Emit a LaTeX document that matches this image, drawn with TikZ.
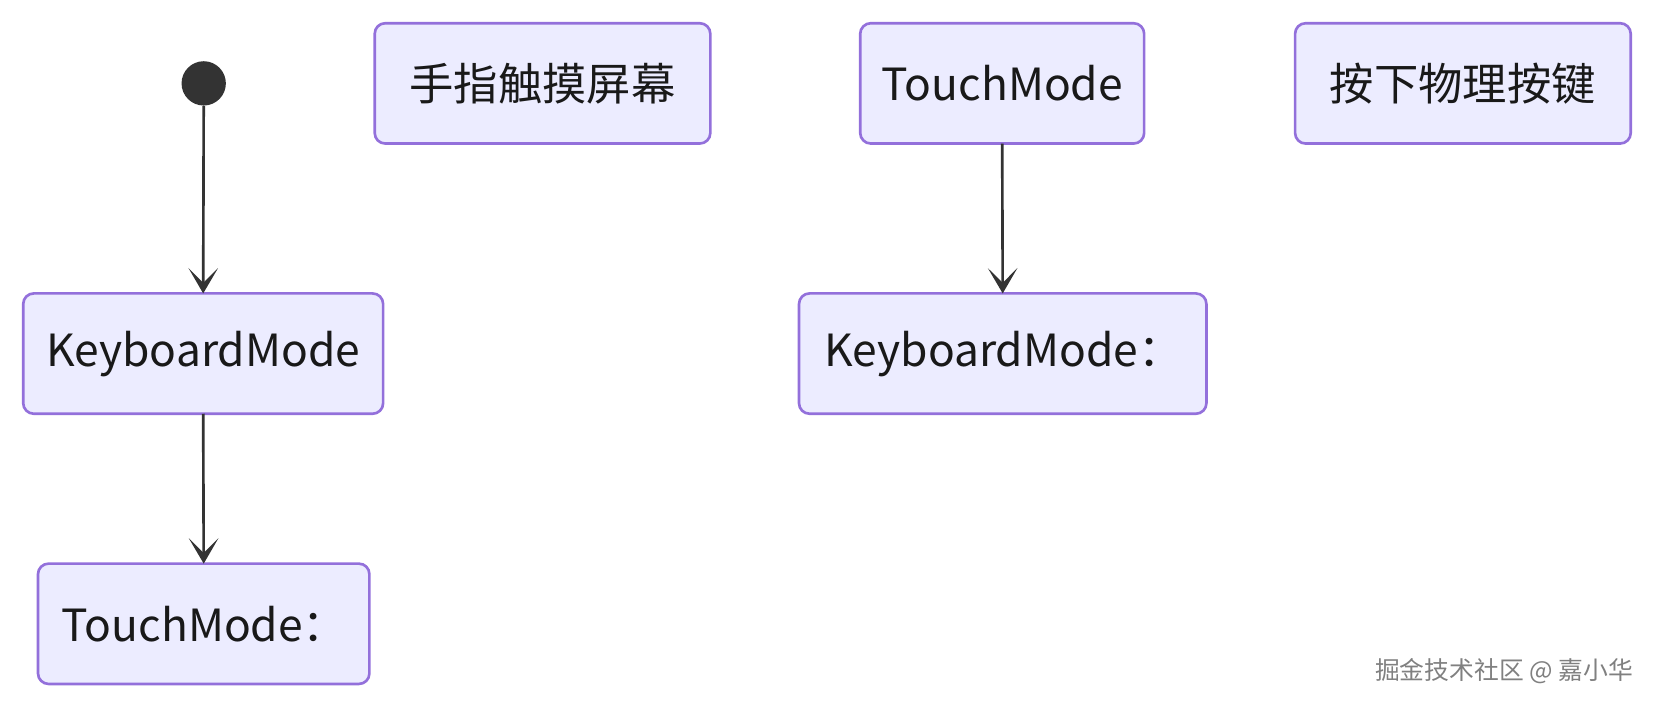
\documentclass[tikz,border=0pt]{standalone}
\usepackage{fontspec}
\setmainfont{Noto Sans CJK SC}
\usetikzlibrary{arrows.meta}
\definecolor{bx}{HTML}{ECECFF}
\definecolor{bd}{HTML}{9370DB}
\definecolor{ln}{HTML}{333333}
\begin{document}
\begin{tikzpicture}[x=1pt,y=-1pt,
  st/.style={draw=bd,fill=bx,line width=2.5pt,rounded corners=10pt},
  tx/.style={font=\fontsize{42}{48}\selectfont,inner sep=0pt,text=black!90},
  ar/.style={draw=ln,line width=2.5pt,-{Stealth[length=24pt,width=28pt,inset=14pt]}}]
\useasboundingbox (0,0) rectangle (1568,671);
\fill[ln] (193,79) circle (21);
\node[circle,minimum size=42pt,inner sep=0pt] (start) at (193,79) {};
\newcommand\bx[6]{\draw[st] (#2,#3) rectangle (#4,#5); \node[tx] (#1) at ({(#2+#4)/2},{(#3+#5)/2}) {#6};
 \coordinate (#1t) at ({(#2+#4)/2},#3); \coordinate (#1b) at ({(#2+#4)/2},#5);}
\bx{a}{355}{22}{673}{136}{手指触摸屏幕}
\bx{b}{815}{22}{1084}{136}{TouchMode}
\bx{c}{1227}{22}{1545}{136}{按下物理按键}
\bx{k}{22}{278}{363}{392}{KeyboardMode}
\draw[st] (757,278) rectangle (1143,392);
\node[tx,anchor=west] (k2) at (781,335) {KeyboardMode：};
\coordinate (k2t) at (950,278);
\draw[st] (36,534) rectangle (350,648);
\node[tx,anchor=west] (t) at (58,591) {TouchMode：};
\coordinate (tt) at (193,534);
\draw[ar] (start.south) -- (kt);
\draw[ar] (kb) -- (tt);
\draw[ar] (bb) -- (k2t);
\node[text=gray,font=\fontsize{23.5}{28}\selectfont] (w) at (1425,636) {掘金技术社区 @ 嘉小华};
\end{tikzpicture}
\end{document}
